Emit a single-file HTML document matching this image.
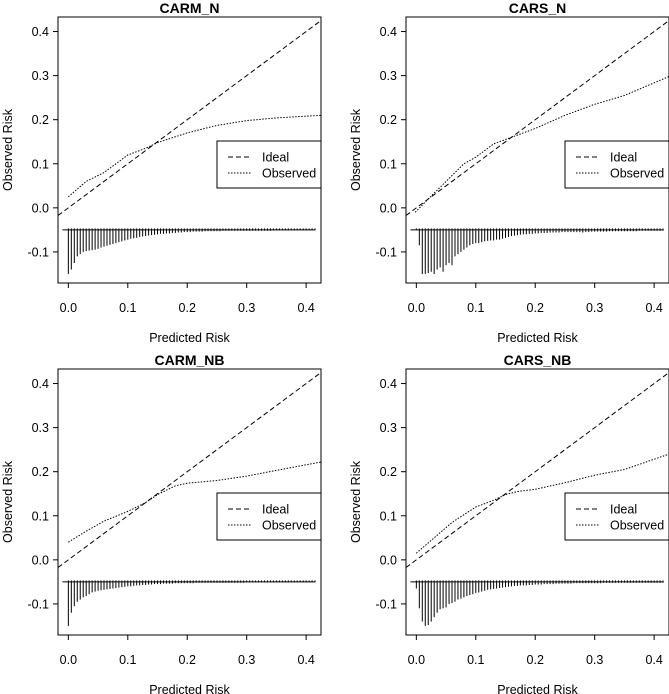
<!DOCTYPE html>
<html><head><meta charset="utf-8"><style>
html,body{margin:0;padding:0;background:#fff;}
svg{display:block;font-family:"Liberation Sans",Arial,sans-serif;}
</style></head><body>
<svg id="chart" width="669" height="694" viewBox="0 0 669 694"></svg>
<script>
const titles = ["CARM_N","CARS_N","CARM_NB","CARS_NB"];
const xTicks = [0.0,0.1,0.2,0.3,0.4];
const yTicks = [-0.1,0.0,0.1,0.2,0.3,0.4];
const xTickLabels = ["0.0","0.1","0.2","0.3","0.4"];
const yTickLabels = ["-0.1","0.0","0.1","0.2","0.3","0.4"];
const obsXCarmN = [0,0.03,0.06,0.1,0.13,0.15,0.2,0.25,0.3,0.35,0.425];
const obsYCarmN = [0.025,0.06,0.08,0.12,0.135,0.148,0.17,0.187,0.198,0.204,0.21];
const obsXCarsN = [-0.002,0.02,0.05,0.08,0.1,0.13,0.15,0.17,0.2,0.25,0.3,0.35,0.425];
const obsYCarsN = [-0.01,0.02,0.06,0.1,0.115,0.145,0.155,0.165,0.18,0.21,0.235,0.255,0.298];
const obsXCarmNB = [0,0.03,0.06,0.1,0.13,0.15,0.18,0.2,0.25,0.3,0.35,0.425];
const obsYCarmNB = [0.04,0.065,0.088,0.11,0.13,0.148,0.168,0.174,0.18,0.19,0.203,0.222];
const obsXCarsNB = [0,0.03,0.06,0.1,0.13,0.15,0.17,0.2,0.25,0.3,0.35,0.425];
const obsYCarsNB = [0.015,0.05,0.085,0.12,0.135,0.148,0.155,0.16,0.175,0.192,0.205,0.24];
const spikeStep = 0.005;
const spikeBase = -0.05;
const spikesCarmN = [100,90,75,60,55,50,48,47,46,45,43,40,38,36,34,32,30,28,26,24,22,20,19,18,16,15,14,13,12,11,10,9,9,8,8,7,7,6,6,5,5,5,4,4,4,4,3,3,3,3,3,3,2,2,2,2,2,2,2,2,2,2,2,2,2,2,2,2,2,1,1,1,1,1,1,1,1,1,1,1,1,1,1,1];
const spikesCarsN = [0,35,100,100,98,95,100,90,85,95,80,75,80,60,55,50,45,40,35,32,30,30,28,26,25,24,24,22,22,20,18,16,14,13,12,11,10,10,9,9,8,8,7,7,7,6,6,6,6,5,5,5,5,5,5,5,6,5,5,4,4,4,4,4,4,3,3,3,3,3,3,3,3,3,3,2,2,2,2,2,2,2,2,2];
const spikesCarmNB = [100,70,55,45,40,35,32,28,24,22,20,19,18,17,16,15,14,13,12,11,10,10,9,8,8,7,7,6,6,5,5,5,4,4,4,4,3,3,3,3,3,3,3,2,2,2,2,2,2,2,2,2,2,2,2,2,2,2,2,2,1,1,1,1,1,1,1,1,1,1,1,1,1,1,1,1,1,1,1,1,1,1,1,1];
const spikesCarsNB = [15,60,90,100,98,90,80,70,62,60,58,50,48,45,40,38,35,32,30,28,25,24,22,20,18,17,16,15,14,13,12,11,10,9,9,8,8,8,7,7,6,6,6,5,5,5,5,4,4,4,4,4,4,3,3,3,3,3,3,3,3,3,3,2,2,2,2,2,2,2,2,2,2,2,2,2,2,2,2,2,2,2,2,2];
const obsX = [obsXCarmN,obsXCarsN,obsXCarmNB,obsXCarsNB];
const obsY = [obsYCarmN,obsYCarsN,obsYCarmNB,obsYCarsNB];
const spikes = [spikesCarmN,spikesCarsN,spikesCarmNB,spikesCarsNB];

const NS="http://www.w3.org/2000/svg";
const svg=document.getElementById('chart');
function mk(tag,attrs,parent,text){const e=document.createElementNS(NS,tag);for(const k in attrs)e.setAttribute(k,attrs[k]);if(text!==undefined)e.textContent=text;parent.appendChild(e);return e;}
const boxes=[[58,17],[406,17],[58,369],[406,369]];
const W=263,H=266, xMin=-0.0174, xMax=0.425, yMin=-0.1705, yMax=0.433;
for(let p=0;p<4;p++){
  const [bx,by]=boxes[p];
  const sx=v=>bx+(v-xMin)/(xMax-xMin)*W;
  const sy=v=>by+H-(v-yMin)/(yMax-yMin)*H;
  const g=mk('g',{},svg);
  
  
  const t=mk('text',{x:bx+W/2,y:by-4,'text-anchor':'middle','font-size':'14','font-weight':'bold'},g,titles[p]);
  
  
  // spikes
  const sg=mk('g',{stroke:'#000','stroke-width':'1'},g);
  
  
  const arr=spikes[p];
  const bl=mk('line',{x1:sx(-0.01),x2:sx(0.415),y1:sy(spikeBase),y2:sy(spikeBase)},sg);
  
  
  for(let i=0;i<arr.length;i++){
    const x=sx(i*spikeStep);
    const l=mk('line',{x1:x,x2:x,y1:sy(spikeBase)-1.5,y2:sy(spikeBase-arr[i]/1000)},sg);
    
    
  }
  // ideal
  const id=mk('line',{x1:sx(xMin),y1:sy(xMin),x2:sx(xMax),y2:sy(xMax),stroke:'#000','stroke-width':'1','stroke-dasharray':'5,3'},g);
  
  
  // observed
  const pts=obsX[p].map((x,i)=>sx(x).toFixed(1)+','+sy(obsY[p][i]).toFixed(1)).join(' ');
  const ob=mk('polyline',{points:pts,fill:'none',stroke:'#000','stroke-width':'1','stroke-dasharray':'1.5,1.5'},g);
  
  
  // box
  const r=mk('rect',{x:bx,y:by,width:W,height:H,fill:'none',stroke:'#000','stroke-width':'1'},g);
  
  
  // x axis
  xTicks.forEach((v,i)=>{
    const tk=mk('line',{x1:sx(v),x2:sx(v),y1:by+H,y2:by+H+5,stroke:'#000'},g);
    
    
    const tl=mk('text',{x:sx(v),y:by+H+29,'text-anchor':'middle','font-size':'12.5'},g,xTickLabels[i]);
    
    
  });
  yTicks.forEach((v,i)=>{
    const tk=mk('line',{x1:bx-5,x2:bx,y1:sy(v),y2:sy(v),stroke:'#000'},g);
    
    
    const tl=mk('text',{x:bx-9,y:sy(v)+4.5,'text-anchor':'end','font-size':'12.5'},g,yTickLabels[i]);
    
    
  });
  const xt=mk('text',{x:bx+W/2,y:by+H+59,'text-anchor':'middle','font-size':'12.5'},g,'Predicted Risk');
  
  
  const yx=bx-46, yy=by+H/2;
  const yt=mk('text',{x:yx,y:yy,'text-anchor':'middle','font-size':'12.5',transform:'rotate(-90 '+yx+' '+yy+')'},g,'Observed Risk');
  
  
  // legend
  const lg=mk('g',{},g);
  
  
  const lx=bx+159, ly=by+124;
  mk('rect',{x:lx,y:ly,width:W-159,height:47,fill:'#fff',stroke:'#000'},lg);
  mk('line',{x1:lx+11,x2:lx+35,y1:ly+16,y2:ly+16,stroke:'#000','stroke-dasharray':'5,3'},lg);
  mk('line',{x1:lx+11,x2:lx+35,y1:ly+32,y2:ly+32,stroke:'#000','stroke-dasharray':'1.5,1.5'},lg);
  const e1=mk('text',{x:lx+45,y:ly+20.5,'font-size':'12.5'},lg,'Ideal');
  
  
  const e2=mk('text',{x:lx+45,y:ly+36.5,'font-size':'12.5'},lg,'Observed');
  
  
}
</script>
</body></html>
